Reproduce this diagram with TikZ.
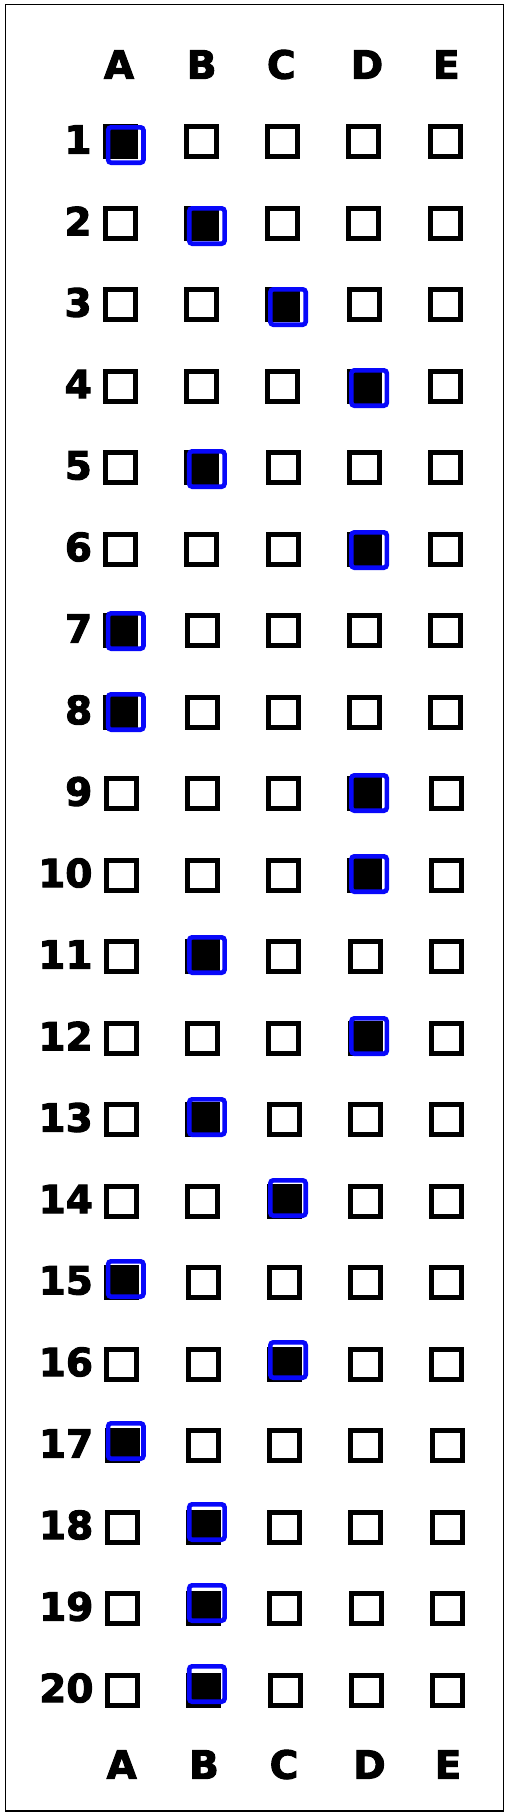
\documentclass[tikz,border=0pt]{standalone}
\usepackage{fontspec}
\setmainfont{DejaVu Sans}
\newfontfamily\lblfont[FakeBold=2.5]{DejaVu Sans Bold}
\definecolor{selblue}{RGB}{8,8,250}
\begin{document}
\begin{tikzpicture}[x=1pt,y=-1pt,
  bubble/.style={shape=rectangle,draw=black,line width=5pt,minimum size=30pt,inner sep=0pt,outer sep=0pt},
  filled/.style={bubble,fill=black},
  sel/.style={shape=rectangle,draw=selblue,line width=4.6pt,rounded corners=3pt,minimum size=35.4pt,inner sep=0pt,outer sep=0pt},
  lbl/.style={font=\fontsize{39}{40}\lblfont,inner sep=0pt,outer sep=0pt,text=black}]
\useasboundingbox (0,0) rectangle (510,1816);
\draw[line width=1.5pt] (5.5,4.5) rectangle (503.5,1811);
% column letters
\foreach \L/\xt/\xb [count=\k] in {A/119/121.7,B/201.7/204,C/281.3/284,D/367/369.5,E/446.3/448}{
  \node[lbl] (top\k) at (\xt,64.5) {\L};
  \node[lbl] (bot\k) at (\xb,1764.5) {\L};
}
% rows
\foreach \ans [count=\i] in {0,1,2,3,1,3,0,0,3,3,1,3,1,2,0,2,0,1,1,1}{
  \pgfmathsetmacro\ny{139.5+81.5*(\i-1)}
  \pgfmathsetmacro\nx{91.5+2*(\i-1)/19}
  \node[lbl,anchor=east] (n\i) at (\nx,\ny) {\i};
  \foreach \c in {0,...,4}{
    \pgfmathsetmacro\bx{120+81.25*\c+2.5*(\i-1)/19}
    \pgfmathsetmacro\by{141.5+81.5*(\i-1)}
    \ifnum\c=\ans\relax
      \node[filled] (b\i-\c) at (\bx,\by) {};
    \else
      \node[bubble] (b\i-\c) at (\bx,\by) {};
    \fi
  }
  \pgfmathsetmacro\sx{125.8+81.1*\ans}
  \pgfmathsetmacro\sy{145+81*(\i-1)}
  \node[sel] (s\i) at (\sx,\sy) {};
}
\end{tikzpicture}
\end{document}
